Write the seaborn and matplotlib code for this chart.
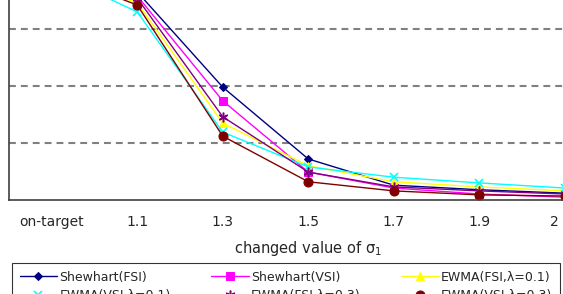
import numpy as np
import pandas as pd
import matplotlib
matplotlib.use('Agg')
import matplotlib.pyplot as plt
import matplotlib.transforms as mtransforms
from matplotlib.ticker import FixedLocator
import seaborn as sns

# categories on the x axis
categories = ['on-target', '1.1', '1.3', '1.5', '1.7', '1.9', '2']

# values (grid step = 1)
shewhart_fsi = [4.0, 3.65, 1.98, 0.72, 0.26, 0.18, 0.12]
shewhart_vsi = [4.0, 3.58, 1.74, 0.49, 0.21, 0.105, 0.05]
ewma_fsi_01 = [4.0, 3.46, 1.35, 0.60, 0.32, 0.23, 0.16]
ewma_vsi_01 = [4.0, 3.30, 1.19, 0.58, 0.40, 0.30, 0.21]
ewma_fsi_03 = [4.0, 3.54, 1.46, 0.49, 0.23, 0.16, 0.105]
ewma_vsi_03 = [4.0, 3.42, 1.12, 0.32, 0.16, 0.09, 0.07]

series_names = ['Shewhart(FSI)', 'Shewhart(VSI)', 'EWMA(FSI,λ=0.1)',
                'EWMA(VSI,λ=0.1)', 'EWMA(FSI,λ=0.3)', 'EWMA(VSI,λ=0.3)']
series_values = [shewhart_fsi, shewhart_vsi, ewma_fsi_01,
                 ewma_vsi_01, ewma_fsi_03, ewma_vsi_03]

styles = [
    dict(color='#000080', marker='D', markersize=4.5),
    dict(color='#FF00FF', marker='s', markersize=6),
    dict(color='#FFFF00', marker='^', markersize=5.5),
    dict(color='#00FFFF', marker='x', markersize=6, markeredgewidth=1.2),
    dict(color='#800080', marker=(6, 2, 0), markersize=7, markeredgewidth=1.1),
    dict(color='#800000', marker='o', markersize=6.5),
]

sns.set_style("white")
plt.rcParams['font.family'] = ['DejaVu Sans']

W, H = 563, 294
fig = plt.figure(figsize=(W / 100, H / 100), dpi=100)

# plot area is cropped at the top, left and right in the reference
step_px = 57.0
cat_px = 85.5
ymax = 4.5
left_px, bottom_px = 9, 200
ax = fig.add_axes([left_px / W, (H - bottom_px) / H,
                   cat_px * 7 / W, step_px * ymax / H])

for name, vals, st in zip(series_names, series_values, styles):
    df = pd.DataFrame({'x': categories, 'y': vals})
    sns.lineplot(data=df, x='x', y='y', ax=ax, sort=False, legend=False,
                 linewidth=1.0, label=name, markeredgecolor=st['color'], **st)

ax.set_xlim(-0.5, 6.5)
ax.set_ylim(0, ymax)
ax.set_yticks(np.arange(1, 5))
ax.yaxis.grid(True, color='#808080', linestyle=(0, (3.3, 2.4)), linewidth=1.5)
ax.set_yticklabels([])
ax.tick_params(axis='y', length=0)

ax.xaxis.set_minor_locator(FixedLocator(np.arange(0.5, 6.5, 1.0)))
ax.tick_params(axis='x', which='major', length=0, labelsize=10, pad=11)
ax.tick_params(axis='x', which='minor', direction='in', length=4, width=1,
               color='#404040')
ax.set_xlabel('changed value of σ$_1$', fontsize=10.5, labelpad=7)
ax.set_ylabel('')

# last label pulled inward like the original
lbl = ax.get_xticklabels()[-1]
lbl.set_transform(lbl.get_transform() + mtransforms.ScaledTranslation(-10 / 100, 0, fig.dpi_scale_trans))

for s in ['top', 'right']:
    ax.spines[s].set_visible(False)
for s in ['left', 'bottom']:
    ax.spines[s].set_color('#404040')
    ax.spines[s].set_linewidth(1.2)

handles, labels = ax.get_legend_handles_labels()
# row-major order across three columns
order = [0, 3, 1, 4, 2, 5]
leg = fig.legend([handles[i] for i in order], [labels[i] for i in order],
                 ncol=3, loc='upper left',
                 bbox_to_anchor=(12 / W, 1 - 263 / H, 548 / W, 0),
                 mode='expand', fontsize=9, frameon=True, fancybox=False,
                 edgecolor='black', handlelength=3, borderaxespad=0,
                 labelspacing=0.45, handletextpad=0.2, borderpad=0.6)
leg.get_frame().set_linewidth(0.8)

fig.savefig('out.png', dpi=100)
